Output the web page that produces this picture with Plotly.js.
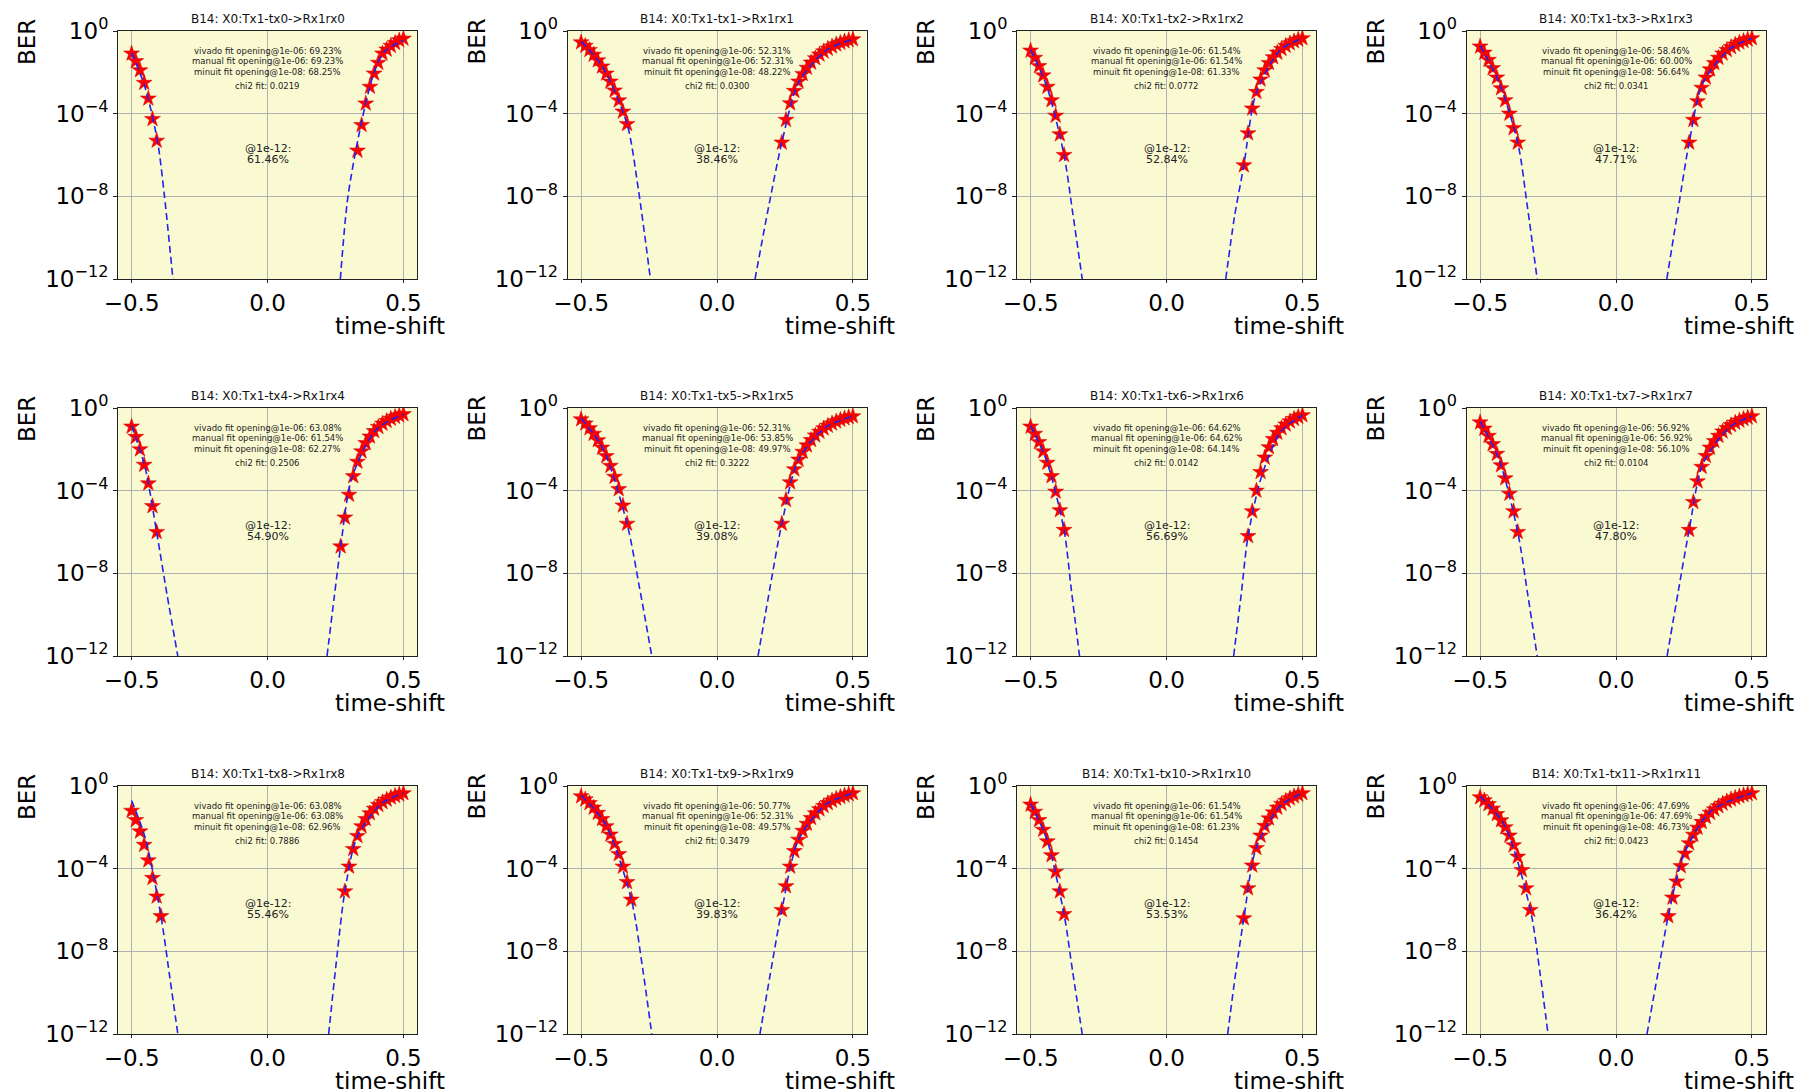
<!DOCTYPE html>
<html><head><meta charset="utf-8">
<script src="https://cdn.plot.ly/plotly-3.0.1.min.js"></script>
<style>html,body{margin:0;padding:0;background:#fff}#plot{width:1804px;height:1092px}</style>
</head><body><div id="plot"></div>
<script>
// time-shift grid, left side (from -0.5 inward) and right side (from 0.5 inward)
const leftShift  = [-0.5, -0.4846, -0.4692, -0.4538, -0.4385, -0.4231, -0.4077, -0.3923, -0.3769, -0.3615, -0.3462, -0.3308, -0.3154, -0.3, -0.2846];
const rightShift = [0.5, 0.4846, 0.4692, 0.4538, 0.4385, 0.4231, 0.4077, 0.3923, 0.3769, 0.3615, 0.3462, 0.3308, 0.3154, 0.3, 0.2846, 0.2692, 0.2538, 0.2385, 0.2231, 0.2077, 0.1923];

const channels = ['tx0','tx1','tx2','tx3','tx4','tx5','tx6','tx7','tx8','tx9','tx10','tx11'];
const receivers = ['rx0','rx1','rx2','rx3','rx4','rx5','rx6','rx7','rx8','rx9','rx10','rx11'];

// measured BER (log10) on the left edge, from x=-0.5 inward
const leftLogBER = [
  [-1.09,-1.46,-1.90,-2.51,-3.27,-4.26,-5.31],
  [-0.55,-0.72,-0.92,-1.15,-1.42,-1.72,-2.06,-2.45,-2.88,-3.36,-3.9,-4.5],
  [-0.95,-1.3,-1.7,-2.15,-2.7,-3.35,-4.1,-5.0,-6.0],
  [-0.75,-1.05,-1.4,-1.8,-2.25,-2.77,-3.35,-4.0,-4.7,-5.4],
  [-0.9,-1.4,-2.0,-2.75,-3.65,-4.75,-6.0],
  [-0.55,-0.75,-0.98,-1.25,-1.56,-1.92,-2.33,-2.8,-3.33,-3.93,-4.72,-5.6],
  [-0.9,-1.25,-1.65,-2.1,-2.65,-3.3,-4.05,-4.95,-5.9],
  [-0.7,-1.0,-1.35,-1.75,-2.22,-2.77,-3.4,-4.15,-5.0,-6.0],
  [-1.2,-1.65,-2.2,-2.85,-3.6,-4.45,-5.35,-6.3],
  [-0.5,-0.65,-0.83,-1.05,-1.3,-1.6,-1.95,-2.35,-2.8,-3.3,-3.9,-4.65,-5.5],
  [-0.9,-1.25,-1.65,-2.12,-2.68,-3.35,-4.15,-5.1,-6.2],
  [-0.55,-0.7,-0.88,-1.1,-1.36,-1.66,-2.0,-2.4,-2.87,-3.42,-4.07,-4.95,-6.0]
];
// measured BER (log10) on the right edge, from x=0.5 inward
const rightLogBER = [
  [-0.37,-0.45,-0.58,-0.72,-0.9,-1.09,-1.54,-2.06,-2.70,-3.51,-4.55,-5.79],
  [-0.4,-0.44,-0.5,-0.57,-0.65,-0.75,-0.86,-0.99,-1.14,-1.32,-1.53,-1.78,-2.08,-2.45,-2.9,-3.5,-4.3,-5.4],
  [-0.35,-0.42,-0.5,-0.6,-0.72,-0.87,-1.05,-1.27,-1.55,-1.9,-2.35,-2.95,-3.75,-4.95,-6.5],
  [-0.35,-0.41,-0.48,-0.56,-0.66,-0.78,-0.92,-1.09,-1.3,-1.55,-1.86,-2.25,-2.75,-3.4,-4.3,-5.4],
  [-0.3,-0.36,-0.43,-0.52,-0.63,-0.76,-0.92,-1.12,-1.38,-1.7,-2.1,-2.6,-3.3,-4.2,-5.3,-6.7],
  [-0.4,-0.44,-0.5,-0.57,-0.65,-0.75,-0.86,-0.99,-1.15,-1.33,-1.55,-1.81,-2.12,-2.5,-2.97,-3.6,-4.45,-5.6],
  [-0.35,-0.43,-0.53,-0.65,-0.8,-0.98,-1.2,-1.5,-1.9,-2.4,-3.1,-4.0,-5.0,-6.2],
  [-0.4,-0.46,-0.53,-0.61,-0.71,-0.83,-0.97,-1.14,-1.35,-1.6,-1.92,-2.32,-2.85,-3.55,-4.55,-5.9],
  [-0.35,-0.41,-0.48,-0.56,-0.66,-0.78,-0.92,-1.1,-1.32,-1.6,-1.95,-2.42,-3.05,-3.9,-5.1],
  [-0.35,-0.4,-0.46,-0.53,-0.61,-0.71,-0.83,-0.97,-1.13,-1.32,-1.55,-1.83,-2.17,-2.6,-3.15,-3.9,-4.85,-6.0],
  [-0.35,-0.42,-0.5,-0.6,-0.72,-0.87,-1.05,-1.28,-1.57,-1.93,-2.4,-3.0,-3.85,-4.95,-6.4],
  [-0.35,-0.39,-0.44,-0.5,-0.57,-0.65,-0.74,-0.85,-0.98,-1.13,-1.3,-1.5,-1.74,-2.02,-2.36,-2.77,-3.27,-3.88,-4.62,-5.4,-6.3]
];
// fitted curves (x, log10 BER)
const fitLeftX = [
  [-0.5,-0.45,-0.405,-0.379,-0.348],
  [-0.5,-0.42,-0.331,-0.29,-0.245],
  [-0.5,-0.44,-0.377,-0.345,-0.31],
  [-0.5,-0.43,-0.3615,-0.325,-0.29],
  [-0.5,-0.45,-0.408,-0.37,-0.33],
  [-0.5,-0.42,-0.331,-0.285,-0.24],
  [-0.5,-0.44,-0.377,-0.35,-0.32],
  [-0.5,-0.43,-0.3615,-0.325,-0.29],
  [-0.5,-0.45,-0.392,-0.36,-0.33],
  [-0.5,-0.41,-0.315,-0.275,-0.24],
  [-0.5,-0.44,-0.377,-0.345,-0.31],
  [-0.5,-0.41,-0.315,-0.28,-0.25]
];
const fitLeftLog = [
  [-1.05,-2.75,-5.3,-8,-12],
  [-0.5,-1.75,-4.5,-7.6,-12],
  [-0.9,-2.7,-6.0,-8.8,-12],
  [-0.7,-2.5,-5.4,-8.6,-12],
  [-0.85,-2.9,-6.0,-9.0,-12],
  [-0.5,-1.95,-5.6,-8.7,-12],
  [-0.85,-2.6,-5.9,-8.8,-12],
  [-0.65,-2.5,-6.0,-9.0,-12],
  [-0.7,-2.5,-6.3,-9.2,-12],
  [-0.45,-1.85,-5.5,-8.7,-12],
  [-0.85,-2.6,-6.2,-9.0,-12],
  [-0.5,-1.9,-6.0,-9.0,-12]
];
const fitRightX = [
  [0.268,0.296,0.346,0.39,0.43,0.5],
  [0.14,0.19,0.2385,0.3,0.4,0.5],
  [0.218,0.25,0.2846,0.33,0.42,0.5],
  [0.187,0.23,0.2692,0.32,0.42,0.5],
  [0.219,0.245,0.2692,0.31,0.4,0.5],
  [0.151,0.195,0.2385,0.3,0.4,0.5],
  [0.247,0.275,0.3,0.35,0.42,0.5],
  [0.188,0.23,0.2692,0.32,0.42,0.5],
  [0.225,0.255,0.2846,0.33,0.42,0.5],
  [0.158,0.2,0.2385,0.3,0.4,0.5],
  [0.225,0.255,0.2846,0.33,0.42,0.5],
  [0.114,0.155,0.1923,0.25,0.35,0.5]
];
const fitRightLog = [
  [-12,-8,-4.4,-2.1,-1.0,-0.45],
  [-12,-8.5,-5.4,-2.5,-0.95,-0.4],
  [-12,-9.0,-6.5,-3.0,-0.9,-0.35],
  [-12,-8.5,-5.4,-2.5,-0.85,-0.35],
  [-12,-9.2,-6.7,-3.4,-1.05,-0.3],
  [-12,-8.7,-5.6,-2.5,-0.93,-0.4],
  [-12,-9.0,-6.2,-3.3,-1.15,-0.35],
  [-12,-8.8,-5.9,-2.7,-0.9,-0.4],
  [-12,-8.3,-5.1,-2.45,-0.85,-0.35],
  [-12,-8.8,-6.0,-2.6,-0.9,-0.35],
  [-12,-9.0,-6.4,-3.0,-0.95,-0.35],
  [-12,-9.0,-6.3,-3.3,-1.2,-0.35]
];

const vivadoOpen = ['69.23','52.31','61.54','58.46','63.08','52.31','64.62','56.92','63.08','50.77','61.54','47.69'];
const manualOpen = ['69.23','52.31','61.54','60.00','61.54','53.85','64.62','56.92','63.08','52.31','61.54','47.69'];
const minuitOpen = ['68.25','48.22','61.33','56.64','62.27','49.97','64.14','56.10','62.96','49.57','61.23','46.73'];
const chi2Fit    = ['0.0219','0.0300','0.0772','0.0341','0.2506','0.3222','0.0142','0.0104','0.7886','0.3479','0.1454','0.0423'];
const open1e12   = ['61.46','38.46','52.84','47.71','54.90','39.08','56.69','47.80','55.46','39.83','53.53','36.42'];

const xTicks = [-0.5, 0, 0.5];
const xTickText = ['\u22120.5','0.0','0.5'];
const yTicks = [1e-12, 1e-8, 1e-4, 1];
const yTickText = ['10<sup>\u221212</sup>','10<sup>\u22128</sup>','10<sup>\u22124</sup>','10<sup>0</sup>'];

// ---- layout geometry (pixels) ----
const W = 1804, H = 1092;
const colLeft = [118, 567.5, 1017, 1466.5];
const rowTop = [31, 408, 786];
const axW = 299, axH = 248;
const FONT = 'DejaVu Sans, Liberation Sans, sans-serif';
const pow10 = v => Math.pow(10, v);

const data = [];
const layout = {
  width: W, height: H, margin: {l:0, r:0, t:0, b:0},
  paper_bgcolor: 'white', showlegend: false,
  font: {family: FONT, color: 'black'},
  annotations: [], shapes: []
};

for (let i = 0; i < 12; i++) {
  const r = Math.floor(i / 4), c = i % 4;
  const sfx = i === 0 ? '' : String(i + 1);
  const xa = 'x' + sfx, ya = 'y' + sfx;
  const x0 = colLeft[c], y0 = rowTop[r];
  layout['xaxis' + sfx] = {
    domain: [x0 / W, (x0 + axW) / W], anchor: ya,
    range: [-0.55, 0.55], tickvals: xTicks, ticktext: xTickText,
    showgrid: true, gridcolor: '#b0b0b0', gridwidth: 1, zeroline: false,
    showline: true, mirror: true, linecolor: '#222', linewidth: 1,
    ticks: 'outside', ticklen: 3, tickcolor: '#222',
    tickfont: {size: 23, family: FONT, color: 'black'}
  };
  layout['yaxis' + sfx] = {
    domain: [1 - (y0 + axH) / H, 1 - y0 / H], anchor: xa,
    type: 'log', range: [-12, 0], tickvals: yTicks, ticktext: yTickText,
    showgrid: true, gridcolor: '#b0b0b0', gridwidth: 1, zeroline: false,
    showline: true, mirror: true, linecolor: '#222', linewidth: 1,
    ticks: 'outside', ticklen: 4, tickcolor: '#222',
    tickfont: {size: 23, family: FONT, color: 'black'}
  };
  layout.shapes.push({type:'rect', xref: xa + ' domain', yref: ya + ' domain', x0:0, x1:1, y0:0, y1:1,
    fillcolor:'#FAFAD2', line:{width:0}, layer:'below'});

  const nL = leftLogBER[i].length, nR = rightLogBER[i].length;
  const star = {symbol: 'star', size: 12, color: 'red', line: {color: '#d00000', width: 0.5}};
  data.push({x: leftShift.slice(0, nL), y: leftLogBER[i].map(pow10), xaxis: xa, yaxis: ya,
    mode: 'markers', marker: star, hoverinfo: 'skip'});
  data.push({x: rightShift.slice(0, nR), y: rightLogBER[i].map(pow10), xaxis: xa, yaxis: ya,
    mode: 'markers', marker: star, hoverinfo: 'skip'});
  const ln = {color: '#2222ee', width: 1.6, dash: '7px,4px', shape: 'spline', smoothing: 0.8};
  data.push({x: fitLeftX[i], y: fitLeftLog[i].map(pow10), xaxis: xa, yaxis: ya, mode: 'lines', line: ln, hoverinfo: 'skip'});
  data.push({x: fitRightX[i], y: fitRightLog[i].map(pow10), xaxis: xa, yaxis: ya, mode: 'lines', line: ln, hoverinfo: 'skip'});

  const xd = xa + ' domain', yd = ya + ' domain';
  const A = layout.annotations;
  A.push({xref: xd, yref: yd, x: 0.5, y: (axH + 12) / axH, text: 'B14: X0:Tx1-' + channels[i] + '->Rx1' + receivers[i],
    showarrow: false, font: {size: 12, family: FONT, color: '#111'}, xanchor: 'center', yanchor: 'middle'});
  A.push({xref: xd, yref: yd, x: -91 / axW, y: (axH - 11) / axH, text: 'BER', textangle: -90,
    showarrow: false, font: {size: 23, family: FONT, color: 'black'}, xanchor: 'center', yanchor: 'middle'});
  A.push({xref: xd, yref: yd, x: (axW - 27) / axW, y: -47 / axH, text: 'time-shift',
    showarrow: false, font: {size: 23, family: FONT, color: 'black'}, xanchor: 'center', yanchor: 'middle'});
  const small = {size: 8.5, family: FONT, color: '#222'};
  A.push({xref: xd, yref: yd, x: 0.5, y: 0.919, text: 'vivado fit opening@1e-06: ' + vivadoOpen[i] + '%', showarrow: false, font: small, yanchor: 'middle'});
  A.push({xref: xd, yref: yd, x: 0.5, y: 0.879, text: 'manual fit opening@1e-06: ' + manualOpen[i] + '%', showarrow: false, font: small, yanchor: 'middle'});
  A.push({xref: xd, yref: yd, x: 0.5, y: 0.836, text: 'minuit fit opening@1e-08: ' + minuitOpen[i] + '%', showarrow: false, font: small, yanchor: 'middle'});
  A.push({xref: xd, yref: yd, x: 0.5, y: 0.778, text: 'chi2 fit: ' + chi2Fit[i], showarrow: false, font: small, yanchor: 'middle'});
  const mid = {size: 11, family: FONT, color: '#222'};
  A.push({xref: xd, yref: yd, x: 0.5, y: 0.528, text: '@1e-12:', showarrow: false, font: mid, yanchor: 'middle'});
  A.push({xref: xd, yref: yd, x: 0.5, y: 0.48, text: open1e12[i] + '%', showarrow: false, font: mid, yanchor: 'middle'});
}

Plotly.newPlot('plot', data, layout, {staticPlot: true, displayModeBar: false});
</script></body></html>
